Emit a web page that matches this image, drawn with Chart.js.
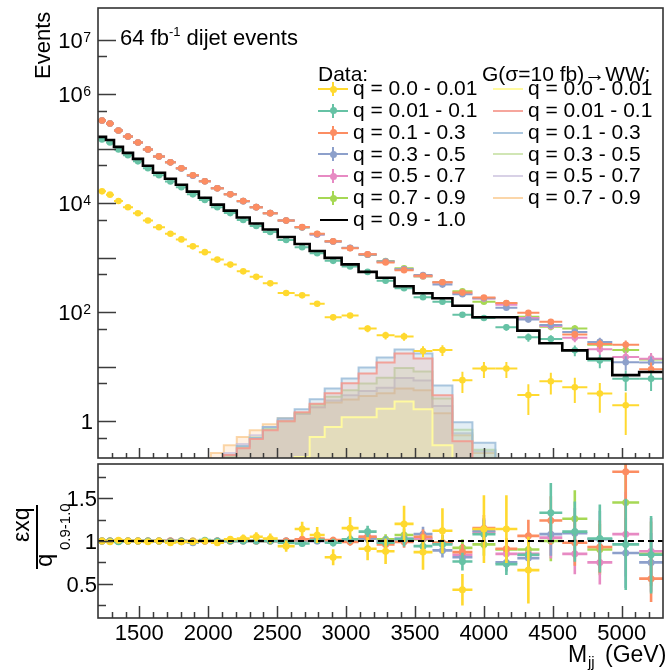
<!DOCTYPE html>
<html><head><meta charset="utf-8">
<script src="https://cdn.jsdelivr.net/npm/chart.js@4/dist/chart.umd.min.js"></script>
<style>
html,body{margin:0;padding:0;background:#fff;}
#wrap{position:relative;width:669px;height:672px;overflow:hidden;font-family:"Liberation Sans",Arial,sans-serif;color:#000;}
canvas{position:absolute;left:0;}
.t{position:absolute;white-space:nowrap;line-height:1;}
.r{transform-origin:0 0;transform:rotate(-90deg);}
.sup{font-size:13px;position:relative;top:-9px;}
</style></head><body>
<div id="wrap">
<canvas id="cTop" width="669" height="462" style="top:0"></canvas>
<canvas id="cBot" width="669" height="212" style="top:460px"></canvas>
<div class="t" style="left:120px;top:26.5px;font-size:22px">64 fb<span class="sup">-1</span> dijet events</div>
<div class="t r" style="left:32px;top:79px;font-size:22px">Events</div>
<div class="t r" style="left:9.5px;top:542px;font-size:23px">εxq</div>
<div style="position:absolute;left:36px;top:505px;width:1.6px;height:64px;background:#000"></div>
<div class="t r" style="left:31.7px;top:567px;font-size:24px">q</div>
<div class="t r" style="left:57.3px;top:550px;font-size:15px">0.9-1.0</div>
<div class="t" style="left:568px;top:642.5px;font-size:23px">M</div>
<div class="t" style="left:588px;top:654.3px;font-size:15px">jj</div>
<div class="t" style="left:605px;top:642.5px;font-size:23px">(GeV)</div>
<div id="legend"></div>
</div>
<script>
// ---------------- data ----------------
const binEdges = [1200,1258,1316,1381,1454,1526,1599,1686,1765,1845,1932,2019,2113,2207,2301,2396,2504,2627,2736,2845,2968,3091,3222,3352,3490,3627,3772,3917,4084,4243,4403,4569,4751,4932,5127,5300];

// events per bin, q = 0.9 - 1.0 (black histogram)
const countsQ09to10 = [166000,146000,109000,84600,65600,48900,36400,28300,22000,16400,12700,9460,7360,5480,4260,3300,2410,1795,1337,996,757,552,429,300,223,181,132,81,81,46,27,20,14,7,8];

const dataLabels = ['q = 0.0 - 0.01','q = 0.01 - 0.1','q = 0.1 - 0.3','q = 0.3 - 0.5','q = 0.5 - 0.7','q = 0.7 - 0.9'];
const topLabel = 'q = 0.9 - 1.0';
// width of each q slice relative to the 0.9-1.0 slice (epsilon)
const qSliceVsTop = [0.1, 0.9, 2, 2, 2, 2];

// ratio panel values  (eps x q) / q_0.9-1.0
const ratioQ0000 = [1.00,0.99,1.01,1.00,1.00,0.99,1.00,0.98,0.99,0.99,1.00,0.98,1.02,1.03,1.05,1.03,0.94,1.14,1.07,0.81,1.15,0.91,0.88,1.20,0.87,1.12,0.43,1.14,1.14,0.66,2.0,2.1,2.3,2.8,null];
const ratioQ0001 = [1.00,1.00,0.99,1.00,1.00,1.00,1.00,0.99,1.00,0.99,1.01,1.00,1.00,1.00,1.00,1.00,0.98,0.97,1.01,0.98,1.02,1.11,0.98,1.02,0.94,0.96,0.76,1.08,0.73,0.84,1.33,1.11,1.03,0.96,0.84];
const ratioQ0103 = [1.00,1.00,1.00,1.00,1.00,1.00,1.00,1.00,1.00,1.00,1.00,1.00,1.00,1.01,1.00,1.00,1.00,1.02,1.03,1.01,0.99,1.05,0.96,0.99,1.05,0.98,0.87,1.15,0.91,1.06,1.24,0.98,0.93,1.81,0.56];
const ratioQ0305 = [1.00,1.00,1.00,1.00,1.00,1.00,1.00,1.00,0.99,0.98,1.00,1.00,1.00,1.00,1.00,1.00,1.00,1.01,1.00,1.00,1.01,1.03,1.00,1.03,1.08,0.89,0.81,1.12,0.75,0.80,1.08,1.09,1.02,0.86,0.75];
const ratioQ0507 = [1.00,1.00,1.00,1.00,1.00,1.00,1.00,1.00,1.00,0.99,1.00,1.00,1.00,1.00,1.00,1.00,1.00,1.01,1.00,1.00,1.00,1.05,0.99,1.02,1.03,0.97,0.84,1.10,0.85,0.85,1.04,0.85,0.75,1.08,0.88];
const ratioQ0709 = [1.00,1.00,1.00,1.00,1.00,1.00,1.00,1.00,1.00,1.00,1.00,1.00,1.00,1.00,1.00,1.00,1.00,1.00,1.02,1.00,1.00,1.03,1.02,1.07,1.02,0.98,0.92,0.96,0.90,0.90,1.00,1.26,0.90,1.45,0.85];

// signal G(10 fb) -> WW, events per bin
const sigLabels = ['q = 0.0 - 0.01','q = 0.01 - 0.1','q = 0.1 - 0.3','q = 0.3 - 0.5','q = 0.5 - 0.7','q = 0.7 - 0.9'];
const sigQ0000 = [0,0,0,0,0,0,0,0,0,0,0,0,0,0,0,0,0,0.22,0.51,0.78,1.18,1.18,1.7,2.3,1.65,0.36,0,0,0,0,0,0,0,0,0];
const sigQ0001 = [0,0,0,0,0,0,0,0,0,0,0,0,0.24,0.32,0.47,0.68,1.0,1.46,2.1,3.25,4.95,7.5,12,17.5,14.2,3.0,0.43,0,0,0,0,0,0,0,0];
const sigQ0103 = [0,0,0,0,0,0,0,0,0,0,0,0.15,0.24,0.35,0.49,0.78,1.13,1.66,2.52,4.0,6.1,9.7,14.8,20.7,17.5,4.5,0.96,0.40,0,0,0,0,0,0,0];
const sigQ0305 = [0,0,0,0,0,0,0,0,0,0,0,0.14,0.22,0.34,0.5,0.72,1.0,1.4,2.0,2.8,3.7,4.9,6.3,9.5,8.2,2.6,0.7,0.3,0,0,0,0,0,0,0];
const sigQ0507 = [0,0,0,0,0,0,0,0,0,0,0,0.16,0.26,0.38,0.55,0.78,1.05,1.35,1.8,2.4,3.0,3.6,4.1,6.2,5.6,1.9,0.6,0.28,0,0,0,0,0,0,0];
const sigQ0709 = [0,0,0,0,0,0,0,0,0,0,0,0.26,0.36,0.51,0.68,0.88,1.13,1.4,1.8,2.2,2.5,2.9,3.25,4.0,3.7,1.4,0.55,0.26,0,0,0,0,0,0,0];

// axis ticks
const xMajorTicks = [1500,2000,2500,3000,3500,4000,4500,5000];
const xMinorTicks = [1300,1400,1600,1700,1800,1900,2100,2200,2300,2400,2600,2700,2800,2900,3100,3200,3300,3400,3600,3700,3800,3900,4100,4200,4300,4400,4600,4700,4800,4900,5100,5200];
const yTopMajorTicks = [1,10,100,1000,10000,100000,1000000,10000000];
const yTopMinorTicks = [0.5,5,50,500,5000,50000,500000,5000000];
const yTopLabelTicks = [1,100,10000,1000000,10000000];
const yRatioMajorTicks = [0.5,1,1.5];
const yRatioMinorTicks = [0.25,0.75,1.25,1.75];
const xRange = [1200, 5300];
const yTopRange = [0.211, 3.86e7];
const yRatioRange = [0.1, 1.9];

// ---------------- styles ----------------
const dataColors = ['#ffd92f','#66c2a5','#fc8d62','#8da0cb','#e78ac3','#a6d854'];
const sigLine = ['rgba(255,250,160,1)','rgba(244,150,140,0.85)','rgba(150,185,215,0.8)','rgba(190,220,150,0.7)','rgba(200,190,220,0.7)','rgba(250,200,140,0.75)'];
const sigFill = ['rgba(255,255,179,0.30)','rgba(251,128,114,0.16)','rgba(128,177,211,0.22)','rgba(179,222,105,0.16)','rgba(190,186,218,0.18)','rgba(253,180,98,0.18)'];
const FONT = '"Liberation Sans", Arial, sans-serif';

const ratioSeries = [ratioQ0000, ratioQ0001, ratioQ0103, ratioQ0305, ratioQ0507, ratioQ0709];
const sigSeries = [sigQ0000, sigQ0001, sigQ0103, sigQ0305, sigQ0507, sigQ0709];
const nBins = countsQ09to10.length;
const binCenters = binEdges.slice(0, -1).map((e, i) => (e + binEdges[i + 1]) / 2);
const binLo = binEdges.slice(0, -1), binHi = binEdges.slice(1);
const EMPTY_FLOOR = 1e-3; // empty bins sit below the log axis

function histPoints(vals) {
  const pts = vals.map((v, i) => ({x: binEdges[i], y: v > 0 ? v : EMPTY_FLOOR}));
  const last = vals[vals.length - 1];
  pts.push({x: binEdges[binEdges.length - 1], y: last > 0 ? last : EMPTY_FLOOR});
  return pts;
}
const seriesCounts = ratioSeries.map((rs, k) => rs.map((r, b) => r == null ? null : r * qSliceVsTop[k] * countsQ09to10[b]));

// ---------------- plugins ----------------
const errorBarPlugin = {
  id: 'errorBars',
  beforeDatasetDraw(chart, args) {
    const ds = chart.data.datasets[args.index];
    if (!ds.errY) return;
    const {ctx, chartArea: a} = chart; const xs = chart.scales.x, ys = chart.scales.y;
    ctx.save();
    ctx.beginPath(); ctx.rect(a.left, a.top, a.right - a.left, a.bottom - a.top); ctx.clip();
    ctx.strokeStyle = ds.pointBackgroundColor; ctx.lineWidth = ds.errWidth; ctx.lineCap = 'butt';
    ds.data.forEach((p, i) => {
      if (p.y == null || p.y < ys.min || p.y > ys.max) return;
      const y = ys.getPixelForValue(p.y), x = xs.getPixelForValue(p.x);
      ctx.beginPath();
      ctx.moveTo(xs.getPixelForValue(ds.xLo[i]), y); ctx.lineTo(xs.getPixelForValue(ds.xHi[i]), y);
      const lo = p.y - ds.errY[i], hi = p.y + ds.errY[i];
      const ylo = ys.getPixelForValue(lo > 0 ? lo : ys.min / 100);
      ctx.moveTo(x, ys.getPixelForValue(hi)); ctx.lineTo(x, ylo);
      ctx.stroke();
    });
    ctx.restore();
  }
};

const rootAxesPlugin = {
  id: 'rootAxes',
  afterDraw(chart, args, o) {
    const {ctx, chartArea: a} = chart; const xs = chart.scales.x, ys = chart.scales.y;
    ctx.save();
    ctx.strokeStyle = '#3c3c3c'; ctx.lineWidth = 1.5;
    ctx.beginPath();
    for (const v of o.xMajor) { const px = Math.round(xs.getPixelForValue(v)) + 0.5; ctx.moveTo(px, a.bottom); ctx.lineTo(px, a.bottom - o.xMajorLen); }
    for (const v of o.xMinor) { const px = Math.round(xs.getPixelForValue(v)) + 0.5; ctx.moveTo(px, a.bottom); ctx.lineTo(px, a.bottom - o.xMinorLen); }
    for (const v of o.yMajor) { const py = Math.round(ys.getPixelForValue(v)) + 0.5; ctx.moveTo(a.left, py); ctx.lineTo(a.left + o.yMajorLen, py); }
    for (const v of o.yMinor) { const py = Math.round(ys.getPixelForValue(v)) + 0.5; ctx.moveTo(a.left, py); ctx.lineTo(a.left + o.yMinorLen, py); }
    ctx.stroke();
    ctx.lineWidth = 1.6; ctx.strokeStyle = '#333';
    ctx.strokeRect(a.left, a.top, a.right - a.left, a.bottom - a.top);
    ctx.fillStyle = '#000'; ctx.textAlign = 'right'; ctx.textBaseline = 'alphabetic';
    for (const v of o.yLabels) {
      const py = ys.getPixelForValue(v);
      if (o.yStyle === 'pow') {
        if (v === 1) { ctx.font = '22px ' + FONT; ctx.fillText('1', o.yLabelRight + 2, py + 8); continue; }
        const e = String(Math.round(Math.log10(v)));
        ctx.font = '14px ' + FONT; const ew = ctx.measureText(e).width;
        ctx.fillText(e, o.yLabelRight, py + 2);
        ctx.font = '22px ' + FONT; ctx.fillText('10', o.yLabelRight - ew - 0.5, py + 8);
      } else {
        ctx.font = '22px ' + FONT; ctx.fillText(String(v), o.yLabelRight, py + 8);
      }
    }
    if (o.xLabels) {
      ctx.textAlign = 'center'; ctx.font = '22px ' + FONT;
      for (const v of o.xMajor) ctx.fillText(String(v), xs.getPixelForValue(v), a.bottom + 22);
    }
    ctx.restore();
  }
};

Chart.defaults.font.family = FONT;

// ---------------- upper pad ----------------
const topDatasets = [];
topDatasets.push({type: 'line', label: topLabel, data: histPoints(countsQ09to10), stepped: 'before',
  borderColor: '#000', borderWidth: 2.6, pointRadius: 0, fill: false, order: 0});
const drawOrder = [5, 4, 3, 2, 1, 0];
[0, 1, 2, 3, 4, 5].forEach(k => {
  const cnt = seriesCounts[k];
  topDatasets.push({type: 'scatter', label: dataLabels[k],
    data: cnt.map((v, b) => ({x: binCenters[b], y: v})),
    pointRadius: 3.3, pointBorderWidth: 0, pointBackgroundColor: dataColors[k], borderColor: dataColors[k],
    errY: cnt.map(v => v == null ? 0 : Math.sqrt(v)), xLo: binLo, xHi: binHi, errWidth: 2,
    order: 1 + (5 - drawOrder.indexOf(k))});
});
sigSeries.forEach((s, k) => {
  topDatasets.push({type: 'line', label: 'G ' + sigLabels[k], data: histPoints(s), stepped: 'before',
    borderColor: sigLine[k], borderWidth: 2, backgroundColor: sigFill[k], pointRadius: 0,
    fill: 'start', order: 20 + k});
});

new Chart(document.getElementById('cTop'), {
  data: {datasets: topDatasets},
  options: {
    responsive: false, animation: false, devicePixelRatio: 1, events: [],
    layout: {padding: {left: 0, right: 6, top: 8, bottom: 0}},
    scales: {
      x: {type: 'linear', min: xRange[0], max: xRange[1], ticks: {display: false}, grid: {display: false, drawTicks: false}, border: {display: false}, afterFit: s => { s.height = 2; }},
      y: {type: 'logarithmic', min: yTopRange[0], max: yTopRange[1], ticks: {display: false}, grid: {display: false, drawTicks: false}, border: {display: false}, afterFit: s => { s.width = 98; }}
    },
    plugins: {legend: {display: false}, tooltip: {enabled: false},
      rootAxes: {xMajor: xMajorTicks, xMinor: xMinorTicks, xMajorLen: 10, xMinorLen: 5,
        yMajor: yTopMajorTicks, yMinor: yTopMinorTicks, yMajorLen: 18, yMinorLen: 9,
        yLabels: yTopLabelTicks, yStyle: 'pow', yLabelRight: 91, xLabels: false}}
  },
  plugins: [errorBarPlugin, rootAxesPlugin]
});

// ---------------- ratio pad ----------------
const botDatasets = [];
botDatasets.push({type: 'line', label: 'unity', data: [{x: xRange[0], y: 1}, {x: xRange[1], y: 1}],
  borderColor: '#000', borderWidth: 2, borderDash: [6, 4], pointRadius: 0, fill: false, order: 0});
[0, 1, 2, 3, 4, 5].forEach(k => {
  const rs = ratioSeries[k], cnt = seriesCounts[k];
  botDatasets.push({type: 'scatter', label: dataLabels[k],
    data: rs.map((r, b) => ({x: binCenters[b], y: r})),
    pointRadius: 3.5, pointBorderWidth: 0, pointBackgroundColor: dataColors[k], borderColor: dataColors[k],
    errY: rs.map((r, b) => r == null ? 0 : r * Math.sqrt(1 / cnt[b] + 1 / countsQ09to10[b])),
    xLo: binLo, xHi: binHi, errWidth: 2.6,
    order: 1 + (5 - drawOrder.indexOf(k))});
});

new Chart(document.getElementById('cBot'), {
  data: {datasets: botDatasets},
  options: {
    responsive: false, animation: false, devicePixelRatio: 1, events: [],
    layout: {padding: {left: 0, right: 6, top: 2, bottom: 0}},
    scales: {
      x: {type: 'linear', min: xRange[0], max: xRange[1], ticks: {display: false}, grid: {display: false, drawTicks: false}, border: {display: false}, afterFit: s => { s.height = 54; }},
      y: {type: 'linear', min: yRatioRange[0], max: yRatioRange[1], ticks: {display: false}, grid: {display: false, drawTicks: false}, border: {display: false}, afterFit: s => { s.width = 98; }}
    },
    plugins: {legend: {display: false}, tooltip: {enabled: false},
      rootAxes: {xMajor: xMajorTicks, xMinor: xMinorTicks, xMajorLen: 12, xMinorLen: 6,
        yMajor: yRatioMajorTicks, yMinor: yRatioMinorTicks, yMajorLen: 15, yMinorLen: 8,
        yLabels: yRatioMajorTicks, yStyle: 'dec', yLabelRight: 97, xLabels: true}}
  },
  plugins: [errorBarPlugin, rootAxesPlugin]
});

// ---------------- legend (HTML text) ----------------
(function () {
  const L = document.getElementById('legend');
  const add = (html, style) => { const d = document.createElement('div'); d.className = 't'; d.style.cssText = style; d.innerHTML = html; L.appendChild(d); return d; };
  const box = style => { const d = document.createElement('div'); d.style.cssText = 'position:absolute;' + style; L.appendChild(d); };
  const fs = 21, asc = 0.8465 * fs;
  add('Data:', `left:318px;top:${81 - asc}px;font-size:${fs}px`);
  add('G(σ=10 fb)→WW:', `left:482px;top:${81 - asc}px;font-size:${fs}px`);
  const rows = dataLabels.concat([topLabel]);
  rows.forEach((lab, k) => {
    const base = 95 + 21.8 * k, mid = base - 6;
    add(lab, `left:353px;top:${base - asc}px;font-size:${fs}px`);
    if (k < 6) {
      box(`left:318px;top:${mid - 1}px;width:30px;height:2px;background:${dataColors[k]}`);
      box(`left:332px;top:${mid - 7}px;width:2px;height:14px;background:${dataColors[k]}`);
      box(`left:329.5px;top:${mid - 3.5}px;width:7px;height:7px;border-radius:50%;background:${dataColors[k]}`);
    } else {
      box(`left:320px;top:${mid - 1.3}px;width:28px;height:2.6px;background:#000`);
    }
  });
  sigLabels.forEach((lab, k) => {
    const base = 95 + 21.8 * k, mid = base - 6;
    add(lab, `left:528px;top:${base - asc}px;font-size:${fs}px`);
    box(`left:493px;top:${mid - 1}px;width:30px;height:2px;background:${sigLine[k]}`);
  });
})();
</script>
</body></html>
